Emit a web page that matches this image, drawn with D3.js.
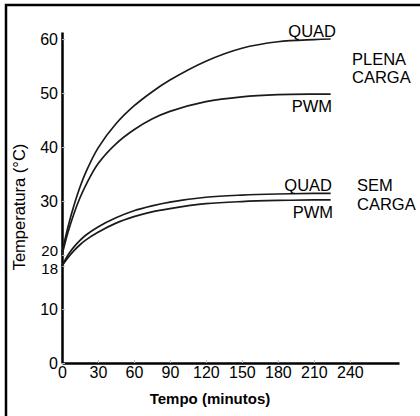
<!DOCTYPE html>
<html>
<head>
<meta charset="utf-8">
<script src="https://cdn.jsdelivr.net/npm/d3@7"></script>
<style>
  body { margin: 0; background: #fff; }
  svg { display: block; font-family: "Liberation Sans", Arial, sans-serif; }
</style>
</head>
<body>
<div id="chart"></div>
<script>
// time in minutes, temperature in °C
var time       = [0, 5, 10, 15, 20, 30, 45, 60, 75, 90, 120, 150, 180, 210, 224];
var quadPlena  = [20.5, 25.2, 29.2, 32.6, 35.4, 39.8, 44.3, 47.6, 50.2, 52.4, 55.9, 58.3, 59.5, 59.9, 60];
var pwmPlena   = [20, 24.2, 27.7, 30.6, 33, 36.9, 40.6, 43.2, 45.2, 46.6, 48.4, 49.3, 49.7, 49.8, 49.8];
var quadSem    = [18, 20.0, 21.5, 22.7, 23.7, 25.2, 26.9, 28.2, 29.1, 29.8, 30.7, 31.1, 31.3, 31.4, 31.4];
var pwmSem     = [18, 19.5, 20.8, 21.9, 22.8, 24.2, 25.9, 27.1, 28.0, 28.6, 29.5, 29.9, 30.1, 30.2, 30.2];

var xTicks = [0, 30, 60, 90, 120, 150, 180, 210, 240];
var yTicks = [0, 10, 18, 20, 30, 40, 50, 60];

var series = [quadPlena, pwmPlena, quadSem, pwmSem];

var W = 420, H = 416;

var svg = d3.select("#chart").append("svg")
    .attr("width", W)
    .attr("height", H);

// outer frame (only top and left edges visible)
svg.append("path")
    .attr("d", "M6,416V5H420")
    .attr("fill", "none")
    .attr("stroke", "#000")
    .attr("stroke-width", 2.5);

var x = d3.scaleLinear().domain([0, 281]).range([62, 399]);
var y = d3.scaleLinear().domain([0, 61.3]).range([363, 32]);

var xAxis = svg.append("g")
    .attr("transform", "translate(0," + y(0) + ")")
    .call(d3.axisBottom(x).tickValues(xTicks).tickSize(-3).tickSizeOuter(0).tickPadding(4));

var yAxis = svg.append("g")
    .attr("transform", "translate(" + x(0) + ",0)")
    .call(d3.axisLeft(y).tickValues(yTicks).tickSize(-3).tickSizeOuter(0).tickPadding(4));

[xAxis, yAxis].forEach(function(a) {
  a.select(".domain").attr("stroke", "#000").attr("stroke-width", 2.5);
  a.selectAll(".tick line").attr("stroke", "#bbb").attr("stroke-width", 1);
  a.selectAll(".tick text")
    .attr("fill", "#000")
    .style("font-size", "16px")
    .style("font-family", "'Liberation Sans', Arial, sans-serif");
});

// 20 and 18 sit close together: shrink and nudge apart a little
yAxis.selectAll(".tick text")
    .filter(function(d) { return d === 20 || d === 18; })
    .style("font-size", "15px")
    .attr("dy", function(d) { return d === 20 ? "0.05em" : "0.5em"; });

var line = d3.line()
    .x(function(d, i) { return x(time[i]); })
    .y(function(d) { return y(d); })
    .curve(d3.curveCatmullRom.alpha(0.5));

svg.selectAll("path.curve")
    .data(series)
    .enter()
    .append("path")
    .attr("class", "curve")
    .attr("d", line)
    .attr("fill", "none")
    .attr("stroke", "#1a1a1a")
    .attr("stroke-width", 1.7);

// labels
var labels = [
  {t: "QUAD", x: 336, y: 37, a: "end"},
  {t: "PWM", x: 332, y: 112, a: "end"},
  {t: "QUAD", x: 332, y: 191, a: "end"},
  {t: "PWM", x: 333, y: 218, a: "end"},
  {t: "PLENA", x: 352, y: 65, a: "start"},
  {t: "CARGA", x: 352, y: 83, a: "start"},
  {t: "SEM", x: 357, y: 191, a: "start"},
  {t: "CARGA", x: 357, y: 210, a: "start"}
];

svg.selectAll("text.lab")
    .data(labels)
    .enter()
    .append("text")
    .attr("class", "lab")
    .attr("x", function(d) { return d.x; })
    .attr("y", function(d) { return d.y; })
    .attr("text-anchor", function(d) { return d.a; })
    .style("font-size", "16.5px")
    .attr("fill", "#000")
    .text(function(d) { return d.t; });

svg.append("text")
    .attr("transform", "translate(25,207) rotate(-90)")
    .attr("text-anchor", "middle")
    .style("font-size", "16.5px")
    .attr("fill", "#000")
    .text("Temperatura (°C)");

svg.append("text")
    .attr("x", 210)
    .attr("y", 404)
    .attr("text-anchor", "middle")
    .style("font-size", "15px")
    .style("font-weight", "bold")
    .attr("fill", "#000")
    .text("Tempo (minutos)");
</script>
</body>
</html>
